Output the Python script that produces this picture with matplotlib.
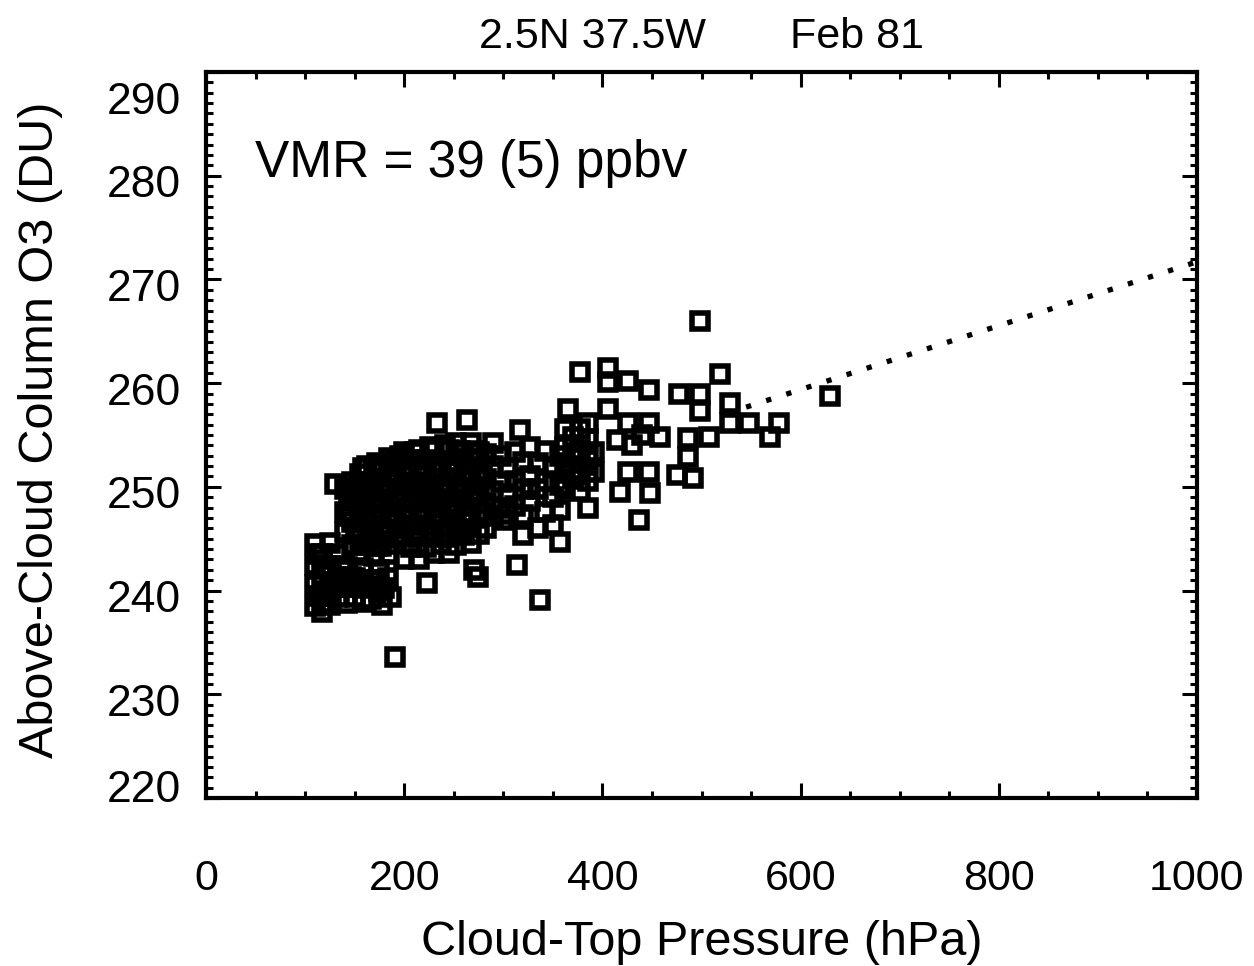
import numpy as np
import matplotlib
matplotlib.use("Agg")
import matplotlib.pyplot as plt
from matplotlib.ticker import MultipleLocator
from matplotlib.transforms import ScaledTranslation

plt.rcParams['font.family'] = ['Liberation Sans', 'DejaVu Sans']

# (cloud-top pressure [hPa], above-cloud column O3 [DU])
low_left = [(110, 244.5), (110, 242.5), (110, 240.5), (110, 238.5),
            (117, 243.5), (117, 241.5), (117, 239.5), (117, 237.9),
            (125, 244.6), (125, 242.4), (125, 240.4), (125, 238.6),
            (133, 243.5), (133, 241.3), (133, 239.4),
            (142, 242.3), (142, 240.3), (142, 238.8),
            (150, 241.2), (150, 239.4),
            (158, 242.2), (158, 240.2), (158, 238.9),
            (167, 241.0), (167, 239.2), (175, 242.0), (175, 240.0),
            (178, 238.6), (184, 241.2), (187, 239.4),
            (113, 243.5), (113, 239.5), (121, 242.4), (121, 238.8), (129, 240.4),
            (137, 242.4), (137, 240.3), (146, 241.3), (154, 240.3), (163, 240.3),
            (171, 241.0), (180, 240.2)]

core_150 = [(140, 245.6), (140, 247.6), (140, 249.8),
            (147, 244.4), (147, 246.6), (147, 248.6), (147, 250.5),
            (155, 243.4), (155, 245.6), (155, 247.6), (155, 249.6), (155, 251.2),
            (162, 244.5), (162, 246.5), (162, 248.5), (162, 250.5), (162, 252.0),
            (170, 243.3), (170, 245.4), (170, 247.4), (170, 249.5), (170, 251.5),
            (177, 244.3), (177, 246.3), (177, 248.4), (177, 250.4), (177, 252.0),
            (185, 243.5), (185, 245.5), (185, 247.5), (185, 249.4), (185, 251.4),
            (185, 252.8),
            (192, 244.5), (192, 246.5), (192, 248.5), (192, 250.5), (192, 252.5),
            (144, 247.6), (144, 249.6), (151, 245.5), (151, 250.0), (158, 244.4),
            (158, 248.6), (158, 251.8), (166, 245.5), (166, 249.5), (173, 244.3),
            (173, 248.4), (173, 252.3), (181, 245.6), (181, 249.8), (188, 252.0),
            (188, 247.0), (196, 245.4), (196, 249.5), (196, 253.0)]

core_240 = [(200, 243.0), (200, 245.2), (200, 247.3), (200, 249.4), (200, 251.5),
            (200, 253.4),
            (207, 244.2), (207, 246.3), (207, 248.4), (207, 250.5), (207, 252.6),
            (215, 243.0), (215, 245.2), (215, 247.3), (215, 249.4), (215, 251.5),
            (215, 253.6),
            (222, 244.2), (222, 246.3), (222, 248.4), (222, 250.5), (222, 252.6),
            (230, 243.6), (230, 245.4), (230, 247.4), (230, 249.4), (230, 251.4),
            (230, 253.6),
            (237, 244.5), (237, 246.4), (237, 248.4), (237, 250.4), (237, 252.4),
            (233, 256.2),
            (245, 243.6), (245, 245.5), (245, 247.5), (245, 249.5), (245, 251.5),
            (245, 253.6),
            (252, 244.4), (252, 246.4), (252, 248.4), (252, 250.4), (252, 252.4),
            (252, 254.2),
            (260, 245.4), (260, 247.4), (260, 249.4), (260, 251.4), (260, 253.4),
            (263, 256.4),
            (267, 244.6), (267, 246.6), (267, 248.6), (267, 250.6), (267, 252.6),
            (267, 254.2),
            (275, 245.5), (275, 247.5), (275, 249.5), (275, 251.5), (275, 253.4),
            (204, 247.4), (204, 251.5), (211, 245.3), (211, 249.5), (211, 253.4),
            (219, 247.5), (219, 251.6), (226, 245.4), (226, 249.5), (226, 253.8),
            (234, 247.4), (234, 251.5), (241, 245.5), (241, 249.6), (241, 254.0),
            (249, 247.5), (249, 251.5), (256, 245.5), (256, 249.5), (256, 253.5),
            (264, 247.5), (264, 251.5), (271, 249.5), (271, 253.5), (279, 247.5),
            (279, 251.0)]

core_320 = [(283, 246.0), (283, 248.4), (283, 250.8), (283, 253.2),
            (290, 247.2), (290, 249.6), (290, 252.0), (290, 254.2),
            (300, 246.8), (298, 248.0), (298, 250.5), (298, 253.0),
            (305, 247.4), (305, 249.3), (305, 251.8),
            (312, 248.2), (312, 250.6), (312, 253.4), (317, 255.5),
            (320, 245.4), (320, 247.3), (320, 249.8), (320, 252.4),
            (327, 248.6), (327, 251.0), (327, 253.8),
            (335, 246.0), (335, 249.8), (335, 252.3),
            (342, 247.6), (342, 250.6), (342, 253.5),
            (350, 246.3), (350, 249.0), (350, 251.8),
            (357, 244.7), (357, 247.8), (357, 250.2), (357, 253.0)]

mid_400 = [(362, 249.8), (362, 251.8), (362, 253.8), (362, 255.6), (365, 257.5),
           (370, 250.8), (370, 252.8), (370, 254.8),
           (377, 249.6), (377, 251.6), (377, 253.6), (377, 255.6), (377, 261.1),
           (385, 248.0), (385, 250.6), (385, 252.6), (385, 254.6), (385, 256.2),
           (392, 251.4), (392, 253.4),
           (406, 257.5), (406, 260.1), (406, 261.5), (426, 260.2), (447, 259.3),
           (426, 256.2), (447, 256.2), (458, 254.8), (415, 254.5), (430, 254.0),
           (440, 255.0), (426, 251.4), (447, 251.4), (418, 249.5), (448, 249.4),
           (437, 246.8)]

high_500 = [(477, 259.0), (498, 259.0), (498, 257.3), (498, 266.0), (519, 260.9),
            (529, 258.1), (529, 256.2), (548, 256.2), (578, 256.2), (569, 254.8),
            (486, 254.7), (508, 254.8), (486, 252.9), (475, 251.1), (491, 250.9),
            (630, 258.8)]

strays = [(130, 250.3), (191, 233.6), (223, 240.7), (270, 242.0), (274, 241.3),
          (314, 242.5), (337, 239.1)]

# VMR fit line (39 ppbv), only visible beyond the data cloud
fit_o3_0 = 240.9        # DU at 0 hPa
fit_slope = 0.0308      # DU per hPa
fit_p = np.array([545, 1000])

pts = np.array(low_left + core_150 + core_240 + core_320 + mid_400 + high_500 + strays)
ctp, o3 = pts[:, 0], pts[:, 1]

fig = plt.figure(figsize=(12.54, 9.66), dpi=100)
ax = fig.add_axes([206 / 1254, 1 - 798 / 966, 991 / 1254, 726 / 966])

ax.plot(fit_p, fit_o3_0 + fit_slope * fit_p, color="k", lw=3.8,
        ls=(0, (1, 3.0)), zorder=1)
ax.plot(ctp, o3, ls="none", marker="s", ms=11.2, mfc="none", mec="k",
        mew=4.0, zorder=2)

ax.set_xlim(0, 1000)
ax.set_ylim(220, 290)
ax.xaxis.set_major_locator(MultipleLocator(200))
ax.xaxis.set_minor_locator(MultipleLocator(50))
ax.yaxis.set_major_locator(MultipleLocator(10))
ax.yaxis.set_minor_locator(MultipleLocator(1))
for s in ax.spines.values():
    s.set_linewidth(3)
ax.tick_params(which="both", direction="in", top=True, right=True, width=2.2)
ax.tick_params(which="major", length=11)
ax.tick_params(which="minor", length=5)
ax.tick_params(axis="x", pad=44, labelsize=31)
ax.tick_params(axis="y", pad=18, labelsize=32)

# IDL-style label placement: end labels pulled inside the axis range
for lab, v in zip(ax.get_yticklabels(), ax.get_yticks()):
    dy = -4
    if v >= 290:
        dy = -19
    elif v <= 220:
        dy = 9
    lab.set_transform(lab.get_transform() + ScaledTranslation(0, dy / 72, fig.dpi_scale_trans))

ax.set_xlabel("Cloud-Top Pressure (hPa)", fontsize=35, va="baseline")
ax.xaxis.set_label_coords(0.5, -0.216)
ax.set_ylabel("Above-Cloud Column O3 (DU)", fontsize=35, va="center")
ax.yaxis.set_label_coords(-0.1675, 0.507)

ax.text(0.5, 1.033, "2.5N 37.5W       Feb 81", transform=ax.transAxes,
        ha="center", va="baseline", fontsize=31)
ax.text(0.0494, 0.855, "VMR = 39 (5) ppbv", transform=ax.transAxes,
        ha="left", va="baseline", fontsize=37)

fig.savefig("out.png", dpi=100)
